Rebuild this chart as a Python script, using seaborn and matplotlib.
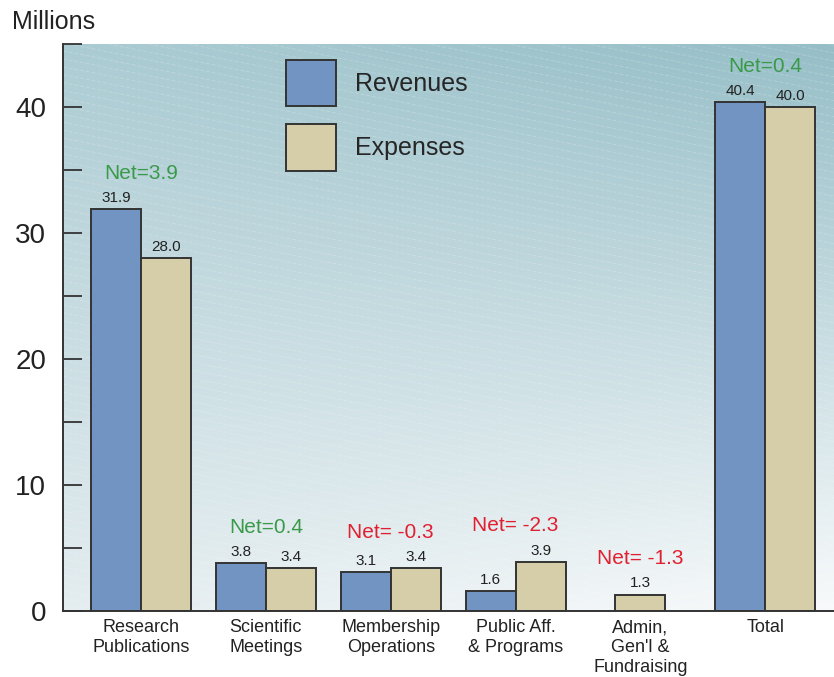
import numpy as np
import pandas as pd
import seaborn as sns
import matplotlib.pyplot as plt

categories = ["Research\nPublications", "Scientific\nMeetings", "Membership\nOperations",
              "Public Aff.\n& Programs", "Admin,\nGen'l &\nFundraising", "Total"]
revenues = [31.9, 3.8, 3.1, 1.6, np.nan, 40.4]
expenses = [28.0, 3.4, 3.4, 3.9, 1.3, 40.0]
nets = [3.9, 0.4, -0.3, -2.3, -1.3, 0.4]
series = ["Revenues", "Expenses"]

df = pd.DataFrame({
    "Category": categories * 2,
    "Type": ["Revenues"] * len(categories) + ["Expenses"] * len(categories),
    "Value": revenues + expenses,
})

sns.set_style("white")
plt.rcParams['font.family'] = ['Liberation Sans', 'DejaVu Sans']

fig = plt.figure(figsize=(8.34, 6.77), dpi=100)
ax = fig.add_axes([0.0755, 0.0975, 0.9245, 0.8375])

# background gradient, teal top-left fading to white bottom-right
tl = np.array([172, 204, 211]) / 255
tr = np.array([150, 190, 199]) / 255
bl = np.array([228, 237, 240]) / 255
br = np.array([248, 250, 251]) / 255
yy, xx = np.mgrid[0:1:200j, 0:1:200j]
grad = ((1 - yy)[..., None] * ((1 - xx)[..., None] * tl + xx[..., None] * tr)
        + yy[..., None] * ((1 - xx)[..., None] * bl + xx[..., None] * br))
ax.imshow(grad, extent=[0, 1, 0, 1], transform=ax.transAxes, aspect='auto', zorder=0, origin='upper')
for y0 in np.arange(-0.3, 1.3, 0.014):
    ax.plot([0, 1], [y0, y0 - 0.27], transform=ax.transAxes, color='white',
            alpha=0.22, lw=0.6, ls=(0, (5, 2)), zorder=0.5)

sns.barplot(data=df, x="Category", y="Value", hue="Type", hue_order=series,
            palette={"Revenues": "#7294c2", "Expenses": "#d6cea9"}, saturation=1,
            edgecolor="#333333", linewidth=1.4, width=0.8, ax=ax, zorder=2)

# center the lone Admin expense bar in its slot
exp_bars = ax.containers[1]
adm = exp_bars[4]
adm.set_x(4 - adm.get_width() / 2)

for cont in ax.containers:
    for bar in cont:
        h = bar.get_height()
        if np.isnan(h):
            continue
        ax.annotate(f"{h:.1f}", (bar.get_x() + bar.get_width() / 2, h),
                    xytext=(0, 3), textcoords="offset points", ha='center', va='bottom',
                    fontsize=11, color='#222222')

for i, n in enumerate(nets):
    top = np.nanmax([revenues[i], expenses[i]])
    txt = f"Net={n}" if n >= 0 else f"Net= {n}"
    col = "#3a9a4a" if n >= 0 else "#e02030"
    ax.annotate(txt, (i, top), xytext=(0, 19), textcoords="offset points",
                ha='center', va='bottom', fontsize=15, color=col)

ax.set_xlim(-0.625, 5.55)
ax.set_ylim(0, 45)
ax.set_yticks(np.arange(0, 46, 5))
ax.set_yticklabels([str(v) if v % 10 == 0 and v < 45 else "" for v in range(0, 46, 5)])
ax.tick_params(axis='y', direction='in', length=14, width=1.3, color='#333333',
               labelsize=20, pad=12, left=True, labelcolor='#222222')
ax.tick_params(axis='x', length=0, labelsize=13, pad=6, labelcolor='#222222')
ax.set_xlabel("")
ax.set_ylabel("")
for s in ['top', 'right']:
    ax.spines[s].set_visible(False)
for s in ['left', 'bottom']:
    ax.spines[s].set_color('#333333')
    ax.spines[s].set_linewidth(1.4)

handles, labels = ax.get_legend_handles_labels()
ax.legend(handles, labels, loc='upper left', bbox_to_anchor=(0.26, 1.012), frameon=False,
          fontsize=18, handlelength=2.0, handleheight=2.5, labelspacing=0.7,
          handletextpad=0.75)

fig.text(0.014, 0.967, "Millions", fontsize=18, va='center', color='#222222')

plt.savefig("out.png", dpi=100)
